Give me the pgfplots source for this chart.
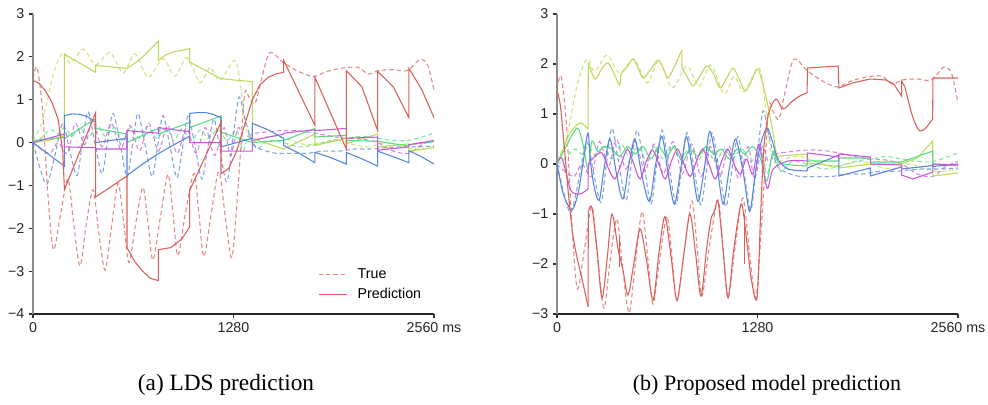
\documentclass[border=0pt]{standalone}
\usepackage{pgfplots}
\pgfplotsset{compat=1.18}
\usepackage{pgfplotstable}
\usepackage{fontspec}
\setmainfont{Liberation Sans}
\newfontfamily\capfont{Liberation Serif}
\definecolor{cR}{HTML}{DB5F57}
\definecolor{cY}{HTML}{B9DB57}
\definecolor{cG}{HTML}{57DB80}
\definecolor{cB}{HTML}{5784DB}
\definecolor{cM}{HTML}{C957DB}

% ---------------- True series (shared by both panels) ----------------
\pgfplotstableread{
x y
0 1.5
26 1.75
60 0.8
95 -1.2
130 -2.5
175 -1.7
223 -0.85
260 -1.9
300 -2.88
340 -1.9
383 -1.1
420 -2.1
460 -2.98
500 -2.0
543 -0.95
580 -1.9
613 -2.8
655 -1.9
702 -1.05
735 -1.9
766 -2.74
815 -1.7
862 -0.74
895 -1.7
925 -2.64
975 -1.6
1028 -0.72
1060 -1.7
1091 -2.66
1140 -1.6
1187 -0.68
1230 -1.8
1270 -2.68
1310 -1.0
1350 1.1
1380 1.05
1417 0.9
1460 1.5
1513 2.1
1596 1.87
1700 1.65
1790 1.54
1870 1.65
1960 1.73
2070 1.76
2140 1.6
2205 1.68
2300 1.7
2390 1.68
2470 1.94
2520 1.8
2560 1.22
}\trueR
\pgfplotstableread{
x y
0 0.05
60 0.5
130 1.6
191 2.1
240 1.85
320 2.18
400 1.82
492 2.1
575 1.62
651 2.07
735 1.52
830 1.96
906 1.55
983 1.98
1066 1.4
1130 1.75
1194 1.45
1290 1.92
1330 1.2
1360 0.3
1400 0.0
1450 0.1
1550 0.15
1650 0.05
1750 -0.05
1850 0.0
1950 0.05
2050 -0.05
2150 -0.1
2250 0.0
2350 -0.1
2450 -0.15
2560 -0.1
}\trueY
\pgfplotstableread{
x y
0 0.0
50 0.1
110 0.3
160 0.2
200 0.35
250 0.15
300 0.35
350 0.1
410 0.4
460 0.15
520 0.35
570 0.05
620 0.35
680 0.1
730 0.38
790 0.1
850 0.35
900 0.05
950 0.32
1010 0.05
1070 0.3
1120 0.1
1180 0.3
1240 0.05
1300 0.3
1340 -0.2
1380 0.2
1430 -0.15
1500 0.05
1600 0.0
1700 -0.1
1800 -0.05
1900 0.05
2000 0.1
2100 0.15
2200 0.1
2300 0.05
2400 0.05
2500 0.15
2560 0.22
}\trueG
\pgfplotstableread{
x y
0 0
45 -0.6
89 -0.97
140 -0.3
190 0.45
235 -0.2
281 -0.77
315 0.0
351 0.72
395 0.0
440 -0.73
475 0.0
511 0.68
555 0.0
600 -0.8
635 -0.05
670 0.68
715 -0.05
760 -0.8
795 -0.1
830 0.63
875 -0.1
919 -0.82
955 -0.1
990 0.62
1035 -0.1
1078 -0.85
1115 -0.15
1155 0.55
1195 -0.2
1238 -0.92
1280 0.2
1315 1.06
1350 0.6
1400 0.0
1450 -0.15
1550 -0.25
1650 -0.25
1750 -0.25
1850 -0.2
1950 -0.2
2050 -0.15
2150 -0.15
2250 -0.12
2350 -0.1
2450 -0.1
2560 -0.08
}\trueB
\pgfplotstableread{
x y
0 0.0
50 -0.15
110 -0.25
160 0.0
220 -0.25
270 0.45
330 -0.05
380 0.5
440 -0.1
500 0.45
560 -0.15
620 0.4
680 -0.2
740 0.45
800 -0.2
860 0.4
920 -0.25
980 0.35
1040 -0.25
1100 0.35
1160 -0.3
1220 0.35
1260 -0.3
1310 0.35
1350 0.05
1400 0.2
1500 0.25
1600 0.28
1700 0.27
1800 0.22
1900 0.15
2000 0.1
2100 0.08
2200 0.0
2300 -0.2
2400 -0.25
2480 -0.05
2560 0.05
}\trueM

\pgfplotsset{
  panel/.style={
    scale only axis, width=300.75pt, height=225pt,
    xmin=0, xmax=2560,
    axis x line*=bottom, axis y line*=left,
    x axis line style={-, black!85, line width=0.9pt},
    y axis line style={-, black!45, line width=1.6pt},
    tick align=outside, major tick length=3pt,
    tick style={black!80, line width=0.8pt},
    xtick={0,1280,2560}, xticklabels={0,1280,2560 ms},
    ticklabel style={font=\fontsize{10.7}{12}\selectfont, text=black!85},
    /pgf/number format/assume math mode=true,
  },
  tru/.style={dash pattern=on 3.3pt off 2.2pt, line width=0.8pt, opacity=0.75},
  pred/.style={line width=0.8pt},
}

\begin{document}
\begin{tikzpicture}
\useasboundingbox (0pt,0pt) rectangle (741pt,303pt);

% ================= (a) LDS =================
\begin{axis}[panel, at={(24.75pt,67.5pt)}, anchor=south west,
  ymin=-4, ymax=3, ytick={-4,-3,-2,-1,0,1,2,3},
  yticklabels={−4,−3,−2,−1,0,1,2,3},
  legend cell align=left,
  legend style={at={(0.7,0.025)}, anchor=south west, draw=none, fill=none,
    font=\fontsize{10.7}{12}\selectfont, row sep=2pt},
  legend image code/.code={\draw[#1] (0pt,0pt) -- (21pt,0pt); \path (27pt,0pt);},
]
\addplot[cR, tru, smooth, forget plot] table {\trueR};
\addplot[cY, tru, smooth, forget plot] table {\trueY};
\addplot[cG, tru, smooth, forget plot] table {\trueG};
\addplot[cB, tru, smooth, forget plot] table {\trueB};
\addplot[cM, tru, smooth, forget plot] table {\trueM};

\addplot[cY, pred, forget plot] coordinates {(0,0.0)(100,0.05)(200,0.16)(200,2.06)(400,1.64)(400,1.8)(600,1.73)(650,1.85)(700,2.0)(750,2.18)(800,2.37)(800,1.92)(850,2.05)(900,2.12)(1000,2.19)(1000,1.88)(1200,1.49)(1400,1.42)(1400,0.1)(1600,-0.15)(1800,0.2)(1800,-0.07)(2000,0.1)(2000,-0.03)(2200,0.2)(2200,-0.1)(2400,-0.03)(2400,-0.2)(2560,-0.12)};
\addplot[cG, pred, forget plot] coordinates {(0,0.05)(200,0.12)(200,0.09)(400,0.56)(400,0.33)(600,0.2)(600,0.0)(800,0.33)(800,0.2)(1000,0.47)(1000,0.35)(1200,0.62)(1200,0.24)(1400,0.0)(1600,0.05)(1800,0.33)(1800,0.13)(2000,0.17)(2000,0.05)(2200,0.03)(2400,-0.08)(2400,-0.05)(2560,0.02)};
\addplot[cB, pred, forget plot] coordinates {(0,0)(200,-0.55)(200,0.63)(250,0.67)(300,0.66)(350,0.6)(400,0.47)(400,0.0)(600,0.1)(600,-0.77)(700,-0.5)(800,-0.26)(900,-0.05)(1000,0.15)(1000,0.68)(1050,0.7)(1100,0.7)(1150,0.66)(1200,0.58)(1200,-0.1)(1400,0.1)(1400,0.45)(1500,0.3)(1600,0.1)(1600,-0.07)(1700,-0.25)(1800,-0.47)(1800,-0.23)(1900,-0.35)(2000,-0.5)(2000,-0.23)(2100,-0.38)(2200,-0.55)(2200,-0.2)(2300,-0.33)(2400,-0.47)(2400,-0.19)(2480,-0.33)(2560,-0.5)};
\addplot[cM, pred, forget plot] coordinates {(0,0.0)(200,0.2)(200,-0.1)(400,-0.12)(400,-0.15)(600,-0.15)(600,0.28)(800,0.22)(800,0.35)(1000,0.25)(1000,0.0)(1200,0.0)(1200,-0.2)(1400,-0.2)(1400,0.05)(1600,0.2)(1600,0.22)(1800,0.3)(1800,0.28)(2000,0.33)(2000,0.1)(2200,0.13)(2200,-0.18)(2400,-0.1)(2400,-0.05)(2560,0.05)};
\addplot[cR, pred, forget plot] coordinates {(0,1.45)(40,1.38)(80,1.2)(120,0.95)(160,0.55)(190,-0.2)(200,-1.05)(200,-1.1)(400,0.7)(400,-1.27)(600,-0.78)(600,-2.45)(650,-2.78)(700,-3.0)(750,-3.17)(800,-3.22)(800,-2.5)(880,-2.45)(950,-2.25)(1000,-1.97)(1000,-1.12)(1200,0.47)(1200,-0.73)(1250,-0.6)(1300,-0.2)(1350,0.4)(1400,1.0)(1450,1.35)(1500,1.52)(1550,1.6)(1600,1.64)(1600,1.92)(1800,0.4)(1800,1.52)(2000,-0.15)(2000,1.68)(2100,1.3)(2200,0.28)(2200,1.66)(2300,1.3)(2400,0.58)(2400,1.73)(2480,1.25)(2560,0.58)};

\addlegendimage{cR, tru}
\addlegendentry{True}
\addlegendimage{cR, pred}
\addlegendentry{Prediction}
\end{axis}

% ================= (b) Proposed =================
\begin{axis}[panel, at={(417.75pt,67.5pt)}, anchor=south west,
  ymin=-3, ymax=3, ytick={-3,-2,-1,0,1,2,3},
  yticklabels={−3,−2,−1,0,1,2,3},
]
\addplot[cR, tru, smooth, forget plot] table {\trueR};
\addplot[cY, tru, smooth, forget plot] table {\trueY};
\addplot[cG, tru, smooth, forget plot] table {\trueG};
\addplot[cB, tru, smooth, forget plot] table {\trueB};
\addplot[cM, tru, smooth, forget plot] table {\trueM};

% yellow
\addplot[cY, pred, smooth, forget plot] coordinates {(0,0)(40,0.3)(83,0.62)(147,0.82)(198,0.7)};
\addplot[cY, pred, forget plot] coordinates {(198,0.7)(200,2.02)};
\addplot[cY, pred, smooth, forget plot] coordinates {(200,2.02)(243,1.7)(285,1.9)(326,2.02)(365,1.8)(400,1.58)(410,1.8)(450,1.95)(485,2.1)(520,1.9)(549,1.72)(600,1.9)(645,2.08)(680,1.9)(708,1.72)(750,1.95)(797,2.28)};
\addplot[cY, pred, forget plot] coordinates {(797,2.28)(798,1.92)};
\addplot[cY, pred, smooth, forget plot] coordinates {(798,1.92)(830,1.75)(868,1.56)(910,1.75)(957,1.96)(1000,1.8)(1040,1.52)(1080,1.7)(1123,1.92)(1160,1.72)(1200,1.46)(1240,1.65)(1283,1.9)(1340,1.26)(1380,0.6)(1404,0.12)};
\addplot[cY, pred, forget plot] coordinates {(1404,0.12)(1420,0.16)(1596,0.2)(1600,0.02)(1800,-0.05)(1800,-0.08)(2000,0.0)(2200,0.0)(2300,0.12)(2398,0.46)(2400,-0.24)(2560,-0.18)};
% green
\addplot[cG, pred, smooth, forget plot] coordinates {(0,0)(50,0.3)(128,0.72)(165,0.4)(198,-0.1)(223,0.46)(260,0.25)(300,0.35)(351,0.3)(400,0.15)(450,0.35)(500,0.2)(550,0.35)(600,0.1)(650,0.35)(700,0.15)(750,0.35)(800,0.05)(850,0.3)(900,0.15)(950,0.35)(1000,0.2)(1050,0.3)(1100,0.1)(1150,0.3)(1200,0.2)(1250,0.35)(1300,0.1)(1340,-0.34)(1380,0.26)(1420,0.02)(1596,-0.04)};
\addplot[cG, pred, forget plot] coordinates {(1596,-0.04)(1600,0.06)(1800,0.06)(1800,0.12)(2000,0.12)(2000,0.04)(2200,0.04)(2400,0.26)(2400,0.0)(2560,-0.04)};
% blue
\addplot[cB, pred, smooth, forget plot] coordinates {(0,0)(40,-0.6)(85,-0.9)(110,-0.85)(140,-0.5)(170,0.1)(198,0.62)(215,0.0)(240,-0.5)(270,-0.72)(300,-0.1)(338,0.5)(380,-0.2)(421,-0.7)(460,0.0)(498,0.5)(540,-0.2)(590,-0.75)(630,0.0)(670,0.55)(710,-0.2)(750,-0.8)(790,-0.1)(825,0.55)(860,0.0)(900,-0.75)(940,-0.1)(975,0.65)(1020,0.0)(1060,-0.8)(1100,-0.1)(1140,0.5)(1190,-0.2)(1230,-0.95)(1265,-0.2)(1300,0.4)(1340,0.72)(1370,0.5)(1411,0.1)(1475,-0.1)(1596,-0.14)};
\addplot[cB, pred, forget plot] coordinates {(1596,-0.14)(1600,-0.08)(1800,0.18)(1800,-0.24)(2000,-0.08)(2000,-0.24)(2200,-0.06)(2200,-0.1)(2400,-0.03)(2400,-0.05)(2560,0.0)};
% magenta
\addplot[cM, pred, smooth, forget plot] coordinates {(0,0.04)(30,0.12)(60,-0.2)(90,-0.54)(147,-0.6)(198,-0.5)};
\addplot[cM, pred, forget plot] coordinates {(198,-0.5)(200,0.0)};
\addplot[cM, pred, smooth, forget plot] coordinates {(200,0.0)(240,0.15)(287,0.22)(330,-0.1)(370,-0.3)(410,0.0)(450,0.3)(490,0.0)(530,-0.3)(570,0.05)(610,0.28)(650,0.0)(690,-0.3)(730,0.05)(770,0.3)(810,0.0)(850,-0.25)(890,0.05)(930,0.3)(970,0.0)(1010,-0.3)(1050,0.05)(1090,0.3)(1130,0.0)(1170,-0.2)(1210,0.1)(1250,-0.2)(1290,0.4)(1340,-0.48)(1380,-0.1)(1475,0.06)(1596,0.06)};
\addplot[cM, pred, forget plot] coordinates {(1596,0.06)(1600,0.22)(1800,0.14)(1800,0.2)(2000,0.14)(2000,0.0)(2200,-0.02)(2200,-0.22)(2270,-0.3)(2400,-0.16)(2400,0.0)(2560,-0.02)};
% red
\addplot[cR, pred, smooth, forget plot] coordinates {(0,1.45)(20,1.2)(45,0.4)(70,-0.5)(100,-1.4)(130,-1.9)(160,-2.3)(198,-2.85)};
\addplot[cR, pred, forget plot] coordinates {(198,-2.85)(200,-0.95)};
\addplot[cR, pred, smooth, forget plot] coordinates {(200,-0.95)(223,-0.87)(255,-1.7)(287,-2.68)(320,-1.9)(351,-1.0)(390,-1.7)(420,-2.1)(453,-2.62)(490,-2.0)(530,-1.3)(570,-1.9)(613,-2.72)(650,-1.8)(689,-1.05)(730,-1.9)(766,-2.72)(810,-1.8)(849,-1.0)(885,-1.8)(919,-2.64)(955,-1.7)(983,-1.1)(1005,-0.95)(1028,-0.75)(1060,-1.7)(1092,-2.68)(1125,-1.8)(1155,-1.12)(1180,-0.8)(1210,-1.5)(1240,-2.3)(1277,-2.68)(1300,-1.0)(1320,0.3)(1350,1.0)(1398,1.3)(1443,1.1)(1500,1.25)(1550,1.36)(1596,1.42)};
\addplot[cR, pred, forget plot] coordinates {(396,-1.45)(396,-2.05)};
\addplot[cR, pred, forget plot] coordinates {(1194,-1.0)(1194,-2.0)};
\addplot[cR, pred, forget plot] coordinates {(1596,1.42)(1600,1.92)(1795,1.96)(1800,1.52)(1850,1.58)(1900,1.63)(1998,1.7)(2100,1.68)(2150,1.6)(2200,1.36)(2200,1.66)(2220,1.55)(2240,1.3)(2260,1.05)(2280,0.86)(2300,0.72)(2317,0.66)(2340,0.68)(2360,0.74)(2398,0.9)(2400,1.72)(2560,1.72)};
\end{axis}

\node[font=\capfont\fontsize{17.5}{20}\selectfont] at (169.5pt,14.25pt) {(a) LDS prediction};
\node[font=\capfont\fontsize{16.5}{19}\selectfont] at (575.25pt,14.25pt) {(b) Proposed model prediction};
\end{tikzpicture}
\end{document}
